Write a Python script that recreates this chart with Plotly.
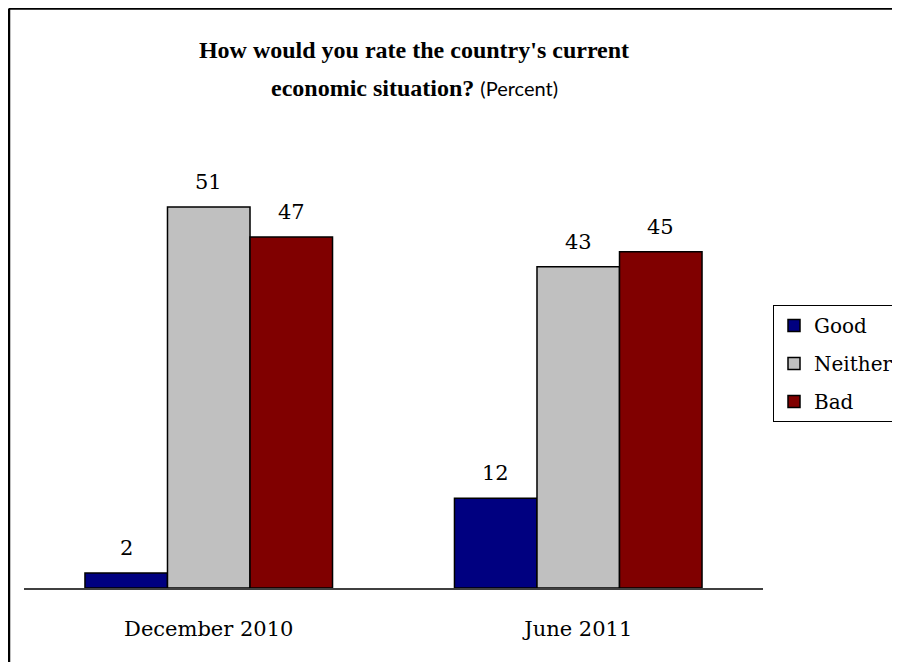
import plotly.graph_objects as go

categories = ["December 2010", "June 2011"]
series_names = ["Good", "Neither", "Bad"]
good = [2, 12]
neither = [51, 43]
bad = [47, 45]
series_values = [good, neither, bad]
colors = ["#000080", "#C0C0C0", "#800000"]

# layout geometry (figure pixels; page body adds an 8px offset)
W, H = 892, 654
plot_left, plot_right = 16, 755
plot_top, plot_bottom = 142, 580
pw = plot_right - plot_left
ph = plot_bottom - plot_top
px_per_unit = 7.47
ymax = ph / px_per_unit

serif = "DejaVu Serif"

fig = go.Figure()
for name, vals, col in zip(series_names, series_values, colors):
    fig.add_trace(go.Bar(
        name=name, x=categories, y=vals,
        marker=dict(color=col, line=dict(color="black", width=1.5)),
        legendgroup=name,
    ))

# data labels above each bar
bar_px = pw / len(categories) * 0.67 / 3
for i, vals in enumerate(series_values):
    for c, v in zip(categories, vals):
        fig.add_annotation(
            x=c, y=v, xref="x", yref="y", text=str(v), showarrow=False,
            xshift=(i - 1) * bar_px, yanchor="bottom", yshift=11,
            font=dict(family=serif, size=21, color="black"),
        )

# second title line
title_cx = (406 - plot_left) / pw
fig.add_annotation(
    x=title_cx, xref="paper", xanchor="center",
    y=(plot_bottom - 80) / ph, yref="paper", yanchor="middle",
    text="<b>economic situation?</b> "
         "<span style='font-family:Lato;font-size:20px'>(Percent)</span>",
    showarrow=False, font=dict(family="Liberation Serif", size=24, color="black"),
)

# outer frame (left & top edges visible in the crop)
fx = (1 - plot_left) / pw
fy = (plot_bottom - 0.5) / ph
fig.add_shape(type="line", xref="paper", yref="paper", x0=fx, x1=(W + 20 - plot_left) / pw,
              y0=fy, y1=fy, line=dict(color="black", width=2.5))
fig.add_shape(type="line", xref="paper", yref="paper", x0=fx, x1=fx,
              y0=fy, y1=-(H + 20 - plot_bottom) / ph, line=dict(color="black", width=2.5))

fig.update_layout(
    width=W, height=H,
    margin=dict(l=plot_left, r=W - plot_right, t=plot_top, b=H - plot_bottom, autoexpand=False),
    paper_bgcolor="white", plot_bgcolor="white",
    barmode="group", bargap=0.33, bargroupgap=0,
    title=dict(
        text="<b>How would you rate the country's current</b>",
        font=dict(family="Liberation Serif", size=24, color="black"),
        x=title_cx, xref="paper", xanchor="center",
        y=1 - 42 / H, yref="container", yanchor="middle",
    ),
    xaxis=dict(
        showline=True, linecolor="#404040", linewidth=2,
        showgrid=False, ticks="", ticklabelstandoff=21,
        tickfont=dict(family=serif, size=21, color="black"),
        range=[-0.5, 1.5],
    ),
    yaxis=dict(visible=False, range=[0, ymax], showgrid=False, zeroline=False),
    legend=dict(
        x=(765 - plot_left) / pw, xanchor="left",
        y=(plot_bottom - 297) / ph, yanchor="top",
        bordercolor="black", borderwidth=1, bgcolor="white",
        font=dict(family=serif, size=20, color="black"),
        tracegroupgap=9, itemwidth=30,
    ),
    showlegend=True,
)

fig.write_html("out.html")
